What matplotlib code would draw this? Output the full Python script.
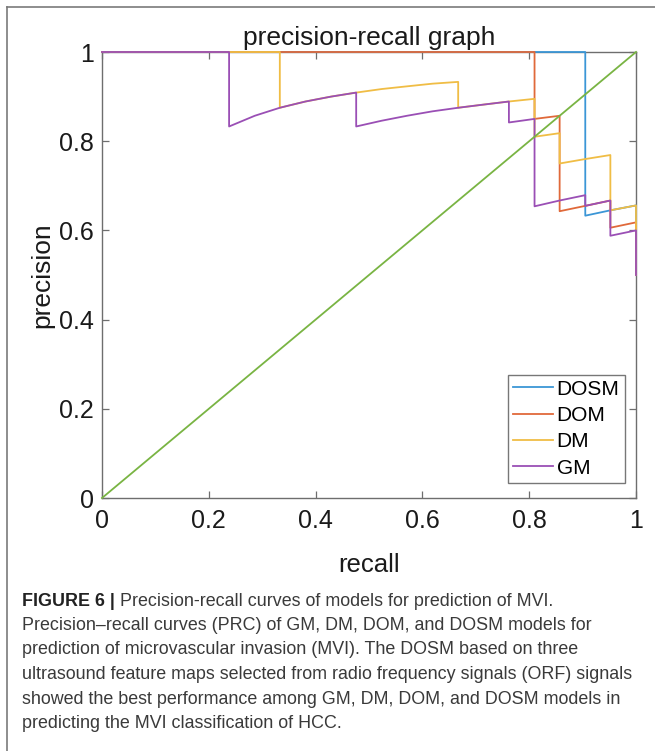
import matplotlib
matplotlib.use('Agg')
import matplotlib.pyplot as plt
from matplotlib.lines import Line2D

# precision-recall points
dosm_recall = [0, 0.905, 0.905, 0.952, 1.0, 1.0]
dosm_prec = [1, 1, 0.633, 0.645, 0.656, 0.500]

dom_recall = [0, 0.810, 0.810, 0.857, 0.857, 0.905, 0.952, 0.952, 1.0, 1.0]
dom_prec = [1, 1, 0.850, 0.857, 0.643, 0.655, 0.667, 0.606, 0.618, 0.500]

dm_recall = [0, 0.333, 0.333, 0.381, 0.429, 0.476, 0.524, 0.571, 0.619, 0.667, 0.667,
             0.714, 0.762, 0.810, 0.810, 0.857, 0.857, 0.905, 0.952, 0.952, 1.0, 1.0]
dm_prec = [1, 1, 0.875, 0.889, 0.900, 0.909, 0.917, 0.923, 0.929, 0.933, 0.875,
           0.882, 0.889, 0.895, 0.810, 0.818, 0.750, 0.760, 0.769, 0.645, 0.656, 0.500]

gm_recall = [0, 0.238, 0.238, 0.286, 0.333, 0.381, 0.429, 0.476, 0.476, 0.524, 0.571,
             0.619, 0.667, 0.714, 0.762, 0.762, 0.810, 0.810, 0.857, 0.905, 0.905,
             0.952, 0.952, 1.0, 1.0]
gm_prec = [1, 1, 0.833, 0.857, 0.875, 0.889, 0.900, 0.909, 0.833, 0.846, 0.857,
           0.867, 0.875, 0.882, 0.889, 0.842, 0.850, 0.654, 0.667, 0.679, 0.655,
           0.667, 0.588, 0.600, 0.500]

diag_x = [0, 1]
diag_y = [0, 1]

ticks = [0, 0.2, 0.4, 0.6, 0.8, 1]
tick_labels = ['0', '0.2', '0.4', '0.6', '0.8', '1']

caption_lines = [
    'Precision-recall curves of models for prediction of MVI.',
    'Precision\u2013recall curves (PRC) of GM, DM, DOM, and DOSM models for',
    'prediction of microvascular invasion (MVI). The DOSM based on three',
    'ultrasound feature maps selected from radio frequency signals (ORF) signals',
    'showed the best performance among GM, DM, DOM, and DOSM models in',
    'predicting the MVI classification of HCC.',
]

plt.rcParams['font.family'] = ['Liberation Sans', 'DejaVu Sans']

W, H = 655, 751
fig = plt.figure(figsize=(W / 100, H / 100), dpi=100, facecolor='white')

# frame lines of the figure panel
fig.add_artist(Line2D([7 / W, 7 / W], [0, 1 - 7 / H], color='#7a7a7a', lw=1.2))
fig.add_artist(Line2D([7 / W, 1], [1 - 7 / H, 1 - 7 / H], color='#7a7a7a', lw=1.2))

ax = fig.add_axes([102 / W, 253 / H, 534 / W, 446 / H])
lw = 1.3
kw = dict(lw=lw, zorder=3, clip_on=False)
ax.plot(dosm_recall, dosm_prec, color='#3b96d6', label='DOSM', **kw)
ax.plot(dom_recall, dom_prec, color='#e0693a', label='DOM', **kw)
ax.plot(dm_recall, dm_prec, color='#f0bd45', label='DM', **kw)
ax.plot(gm_recall, gm_prec, color='#9a4fb5', label='GM', **kw)
ax.plot(diag_x, diag_y, color='#79b443', **kw)

ax.set_xlim(0, 1)
ax.set_ylim(0, 1)
ax.set_xticks(ticks)
ax.set_xticklabels(tick_labels)
ax.set_yticks(ticks)
ax.set_yticklabels(tick_labels)
for s in ax.spines.values():
    s.set_color('#6e6e6e')
    s.set_linewidth(1.0)
    s.set_zorder(2)
ax.tick_params(direction='in', length=5, width=0.9, color='#6e6e6e',
               top=True, right=True, labelsize=18, labelcolor='#1a1a1a')
ax.tick_params(axis='x', pad=8)
ax.tick_params(axis='y', pad=6)

ax.set_title('precision-recall graph', fontsize=19, color='#1a1a1a', pad=5)
ax.set_xlabel('recall', fontsize=18.5, color='#1a1a1a', labelpad=14)
ax.set_ylabel('precision', fontsize=19, color='#1a1a1a', labelpad=3)

leg = ax.legend(loc='lower right', bbox_to_anchor=(0.979, 0.034), fontsize=15,
                frameon=True, fancybox=False, handlelength=1.9, handletextpad=0.2,
                labelspacing=0.35, borderpad=0.25, borderaxespad=0)
leg.get_frame().set_edgecolor('#555555')
leg.get_frame().set_linewidth(1.0)
leg.set_zorder(4)

# caption, bold lead-in then plain text
renderer = fig.canvas.get_renderer()
x0 = 22 / W
y_top = 601 / H
step = 24.5 / H
cap_size = 12.85
cap_color = '#3a3a3a'
head = fig.text(x0, 1 - y_top, 'FIGURE 6 | ', fontsize=cap_size, fontweight='bold',
                color='#222222', va='center', ha='left')
hb = head.get_window_extent(renderer)
fig.text(hb.x1 / W, 1 - y_top, caption_lines[0], fontsize=cap_size,
         color=cap_color, va='center', ha='left')
for i, line in enumerate(caption_lines[1:], start=1):
    fig.text(x0, 1 - y_top - i * step, line, fontsize=cap_size,
             color=cap_color, va='center', ha='left')

fig.savefig('out.png', dpi=100, facecolor='white')
